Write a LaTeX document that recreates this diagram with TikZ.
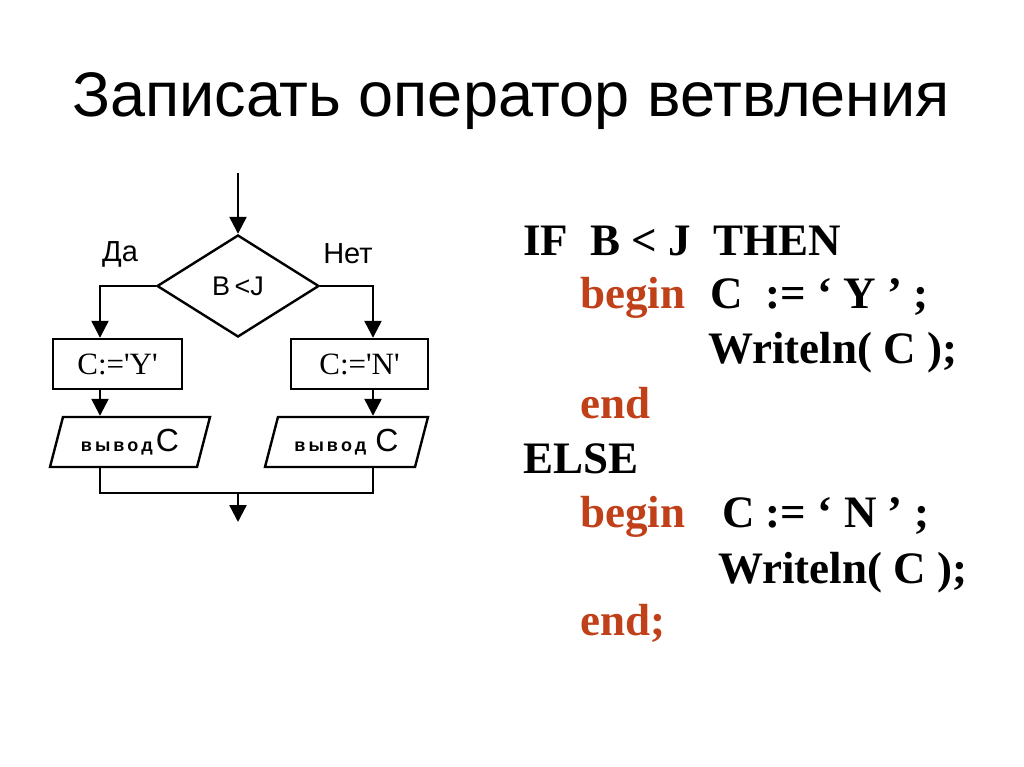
\documentclass[tikz,border=0pt]{standalone}
\usepackage{fontspec}
\setmainfont{Liberation Serif}
\setsansfont{Liberation Sans}
\usetikzlibrary{shapes.geometric,arrows.meta}
\definecolor{kw}{HTML}{C0401A}
\tikzset{
  fc/.style={line width=2.4pt},
  arr/.style={fc,-{Triangle[width=17pt,length=17pt]}},
  procbox/.style={draw,fc,rectangle,minimum height=50pt,inner sep=0pt,font=\fontsize{31}{31}\selectfont},
  iobox/.style={draw,fc,trapezium,trapezium left angle=63.4,trapezium right angle=116.6,trapezium stretches body,minimum height=50pt,inner sep=0pt},
  lbl/.style={font=\sffamily\fontsize{29}{29}\selectfont},
  code/.style={anchor=base west,inner sep=0pt,font=\bfseries\fontsize{45}{45}\selectfont},
}
\newcommand{\sq}{\XeTeXglyph\XeTeXcharglyph"27\relax}
\begin{document}
\begin{tikzpicture}[x=1pt,y=-1pt]
\useasboundingbox (0,0) rectangle (1024,767);
\node[anchor=base,inner sep=0pt,font=\sffamily\fontsize{63}{63}\selectfont] (title) at (511,117) {Записать оператор ветвления};
% flowchart
\coordinate (in) at (238,173);
\node[draw,fc,diamond,minimum width=162pt,minimum height=102pt,inner sep=0pt,font=\sffamily\fontsize{27}{27}\selectfont] (dia) at (238,286) {B\,<J};
\node[procbox,minimum width=129pt] (lbox) at (117.5,364) {C:=\sq Y\sq};
\node[procbox,minimum width=137pt] (rbox) at (359.5,364) {C:=\sq N\sq};
\node[iobox,minimum width=160pt] (lpar) at (130,442) {\sffamily\bfseries\fontsize{18}{18}\selectfont в\,ы\,в\,о\,д\,\mdseries\fontsize{32}{32}\selectfont C};
\node[iobox,minimum width=163pt] (rpar) at (346.5,442) {\sffamily\bfseries\fontsize{18}{18}\selectfont в\,ы\,в\,о\,д\enspace\mdseries\fontsize{32}{32}\selectfont C};
\coordinate (lx) at (100,0);
\coordinate (rx) at (373,0);
\coordinate (join) at (238,493);
\coordinate (out) at (238,522);
\node[lbl] (da) at (120,254) {Да};
\node[lbl] (net) at (348,254) {Нет};
\draw[arr] (in) -- (dia.north);
\draw[arr] (dia.west) -| (lbox.north -| lx);
\draw[arr] (dia.east) -| (rbox.north -| rx);
\draw[arr] (lbox.south -| lx) -- (lpar.north -| lx);
\draw[arr] (rbox.south -| rx) -- (rpar.north -| rx);
\draw[fc] (lpar.south -| lx) -- (lx |- join) -- (rx |- join) -- (rpar.south -| rx);
\draw[arr] (join) -- (out);
% code
\node[code] (c1) at (523,255) {IF\ \ B < J\ \ THEN};
\node[code,text=kw] (c2) at (580,308) {begin};
\node[code] (c2b) at (710,308) {C\ \ := ‘ Y ’ ;};
\node[code] (c3) at (708,363) {Writeln( C );};
\node[code,text=kw] (c4) at (580,418) {end};
\node[code] (c5) at (523,473) {ELSE};
\node[code,text=kw] (c6) at (580,527) {begin};
\node[code] (c6b) at (722,527) {C := ‘ N ’ ;};
\node[code] (c7) at (718,583) {Writeln( C );};
\node[code,text=kw] (c8) at (580,635) {end;};
\end{tikzpicture}
\end{document}
